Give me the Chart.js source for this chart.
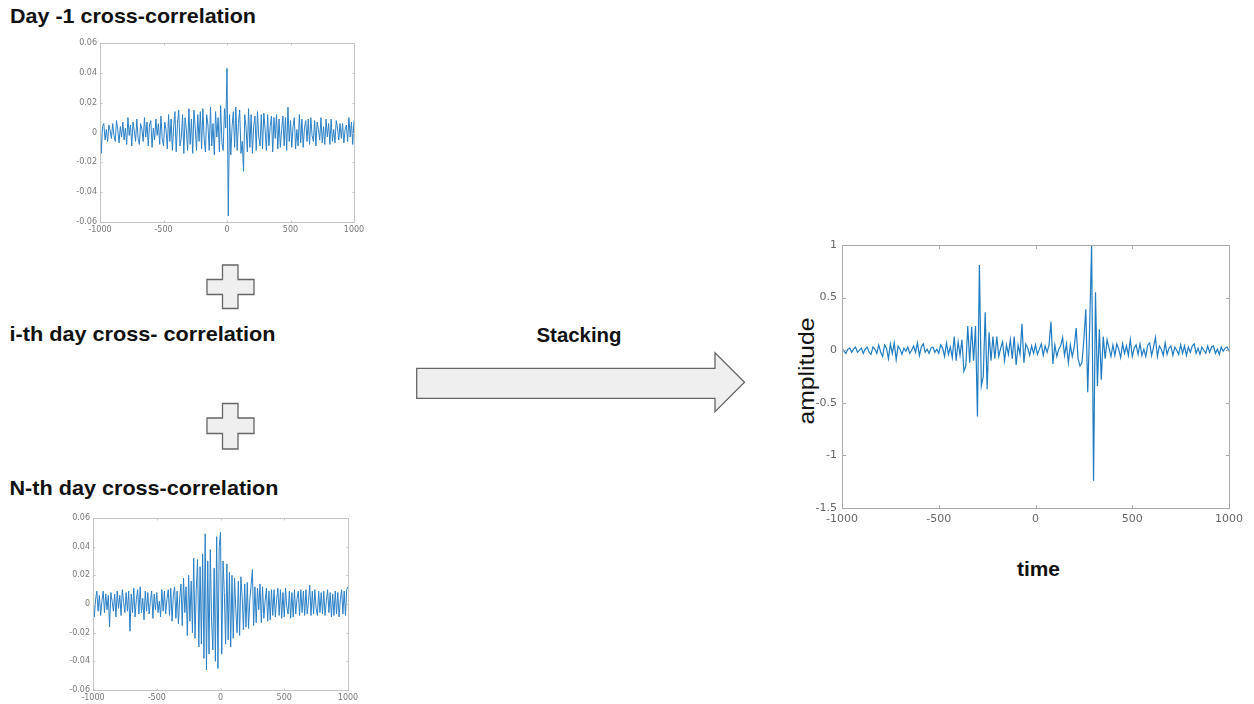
<!DOCTYPE html>
<html>
<head>
<meta charset="utf-8">
<script src="https://cdn.jsdelivr.net/npm/chart.js@4.4.1/dist/chart.umd.min.js"></script>
<style>
  html, body { margin: 0; padding: 0; background: #ffffff; }
  #page { position: relative; width: 1254px; height: 704px; overflow: hidden; background: #fff; }
  canvas { position: absolute; }
  svg { position: absolute; left: 0; top: 0; }
  .ttl { font-family: "Liberation Sans", Arial, sans-serif; font-weight: bold; font-size: 20.5px; fill: #111; }
</style>
</head>
<body>
<div id="page">
  <svg width="1254" height="704" viewBox="0 0 1254 704">
    <text class="ttl" x="10" y="23" textLength="246" lengthAdjust="spacingAndGlyphs">Day -1 cross-correlation</text>
    <text class="ttl" x="9.5" y="340.7" textLength="266" lengthAdjust="spacingAndGlyphs">i-th day cross- correlation</text>
    <text class="ttl" x="9.5" y="495" textLength="269" lengthAdjust="spacingAndGlyphs">N-th day cross-correlation</text>
    <text class="ttl" x="536.5" y="341.5" textLength="85" lengthAdjust="spacingAndGlyphs">Stacking</text>
    <text class="ttl" x="1017" y="576" textLength="43" lengthAdjust="spacingAndGlyphs">time</text>
    <text transform="translate(814,371) rotate(-90)" text-anchor="middle" textLength="107" lengthAdjust="spacingAndGlyphs"
          style="font-family:'Liberation Sans',Arial,sans-serif;font-size:22px;fill:#111;">amplitude</text>
    <path d="M222.5,265 H238 V279.5 H254 V294.5 H238 V308.5 H222.5 V294.5 H207 V279.5 H222.5 Z"
          fill="#efefef" stroke="#666" stroke-width="1.3"/>
    <path d="M222.5,403.5 H238 V418 H254 V433.5 H238 V449 H222.5 V433.5 H207 V418 H222.5 Z"
          fill="#efefef" stroke="#666" stroke-width="1.3"/>
    <path d="M416.7,368.3 H715 V352.7 L744.5,382.2 L715,411.7 V398.3 H416.7 Z"
          fill="#efefef" stroke="#666" stroke-width="1.3"/>
  </svg>
  <canvas id="c1" width="330" height="205" style="left:40px;top:33px;"></canvas>
  <canvas id="c3" width="330" height="196" style="left:35px;top:508px;"></canvas>
  <canvas id="cm" width="470" height="300" style="left:780px;top:232px;"></canvas>
</div>
<script>
// ---- shared time lags ----
const lags = [
 -1000,-990,-980,-970,-960,-950,-940,-930,-920,-910,
 -900,-890,-880,-870,-860,-850,-840,-830,-820,-810,
 -800,-790,-780,-770,-760,-750,-740,-730,-720,-710,
 -700,-690,-680,-670,-660,-650,-640,-630,-620,-610,
 -600,-590,-580,-570,-560,-550,-540,-530,-520,-510,
 -500,-490,-480,-470,-460,-450,-440,-430,-420,-410,
 -400,-390,-380,-370,-360,-350,-340,-330,-320,-310,
 -300,-290,-280,-270,-260,-250,-240,-230,-220,-210,
 -200,-190,-180,-170,-160,-150,-140,-130,-120,-110,
 -100,-90,-80,-70,-60,-50,-40,-30,-20,-10,
 0,10,20,30,40,50,60,70,80,90,
 100,110,120,130,140,150,160,170,180,190,
 200,210,220,230,240,250,260,270,280,290,
 300,310,320,330,340,350,360,370,380,390,
 400,410,420,430,440,450,460,470,480,490,
 500,510,520,530,540,550,560,570,580,590,
 600,610,620,630,640,650,660,670,680,690,
 700,710,720,730,740,750,760,770,780,790,
 800,810,820,830,840,850,860,870,880,890,
 900,910,920,930,940,950,960,970,980,990,
 1000
];

// ---- Day -1 cross-correlation ----
const day1Corr = [
 0.014,-0.014,0.004,0.006,-0.005,0.002,-0.006,0.005,0.001,-0.004,
 0.006,-0.002,-0.006,0.008,0.002,-0.007,0.004,-0.003,0.007,-0.005,
 0.003,-0.008,0.01,-0.002,0.005,-0.009,0.007,0.001,-0.006,0.009,
 -0.004,-0.008,0.006,0.002,-0.006,0.01,-0.003,0.007,-0.009,0.005,
 0.008,-0.01,0.003,-0.005,0.009,-0.002,0.006,-0.008,0.011,-0.004,
 -0.009,0.007,0.002,-0.011,0.012,-0.006,0.009,-0.012,0.004,0.014,
 -0.013,0.006,0.015,-0.009,-0.004,0.012,-0.014,0.01,0.002,-0.012,
 0.016,-0.008,0.009,-0.014,0.015,0.003,-0.012,0.012,-0.006,0.014,
 -0.011,0.016,-0.004,-0.013,0.012,0.005,-0.012,0.017,-0.009,0.006,
 -0.015,0.014,-0.003,0.01,-0.013,0.018,-0.007,-0.012,0.016,0.003,
 0.043,-0.056,0.012,-0.015,0.004,0.014,-0.01,0.017,-0.012,0.006,
 0.015,-0.014,-0.006,-0.026,0.012,0.003,-0.013,0.016,-0.01,0.012,
 -0.014,0.004,0.011,-0.012,0.014,-0.003,-0.009,0.012,-0.011,0.013,
 0.002,-0.012,0.012,-0.009,0.004,0.011,-0.013,0.01,-0.004,0.012,
 -0.011,0.009,-0.01,0.002,0.011,-0.009,0.01,-0.012,0.017,-0.006,
 0.008,-0.01,0.004,0.01,-0.011,0.002,-0.009,0.012,-0.007,0.009,
 -0.01,0.003,0.008,-0.006,0.009,-0.008,0.01,-0.002,-0.006,0.008,
 -0.009,0.007,0.002,-0.005,0.01,-0.007,0.004,-0.008,0.009,-0.003,
 0.006,-0.008,0.009,-0.006,0.002,-0.007,0.008,0.003,-0.005,0.006,
 -0.004,0.006,-0.007,0.002,0.005,-0.006,0.01,-0.003,0.007,-0.008,
 0.008
];

// ---- N-th day cross-correlation ----
const dayNCorr = [
 0.008,-0.009,0.003,0.009,-0.005,0.006,-0.008,0.002,0.009,-0.006,
 0.007,-0.004,0.006,-0.016,0.008,0.002,-0.005,0.007,-0.009,0.009,
 -0.003,0.006,-0.008,0.01,0.001,-0.006,0.008,-0.005,0.009,-0.019,
 0.007,-0.006,0.011,-0.009,0.003,0.01,-0.007,0.012,-0.006,0.004,
 -0.011,0.009,-0.005,0.008,-0.007,0.002,0.009,-0.01,0.007,-0.004,
 0.008,-0.006,0.002,-0.009,0.01,-0.005,0.009,-0.007,0.003,0.01,
 -0.008,0.011,-0.012,0.006,0.012,-0.01,0.009,-0.014,0.004,0.014,
 -0.015,0.018,-0.006,0.012,-0.022,0.02,-0.012,0.016,-0.02,0.032,
 -0.024,0.01,0.031,-0.03,0.026,-0.028,0.035,-0.038,0.049,-0.046,
 0.03,-0.035,0.038,-0.012,-0.032,0.025,-0.04,0.047,-0.045,0.04,
 0.05,-0.035,0.03,0.008,-0.028,0.028,-0.025,0.022,-0.03,0.02,
 -0.024,0.018,-0.004,-0.02,0.016,-0.022,0.019,0.005,-0.018,0.014,
 -0.016,0.015,-0.017,0.003,0.013,0.024,-0.015,0.012,-0.013,0.011,
 -0.004,0.014,-0.013,0.012,-0.01,0.002,0.011,-0.012,0.009,-0.011,
 0.01,-0.008,0.01,-0.009,0.003,0.011,-0.008,0.01,-0.01,0.008,
 -0.009,0.011,-0.002,-0.007,0.009,-0.01,0.008,-0.009,0.01,-0.007,
 0.004,0.009,-0.008,0.01,-0.006,0.009,-0.008,0.01,-0.007,0.002,
 0.013,-0.008,0.009,-0.007,0.01,-0.003,-0.008,0.009,-0.006,0.008,
 -0.007,0.009,-0.008,0.002,0.01,-0.006,0.008,-0.009,0.007,-0.008,
 0.009,-0.007,0.008,-0.009,0.003,0.01,-0.007,0.009,-0.008,0.01,
 0.012
];

// ---- Stacked amplitude ----
const stackedAmp = [
 0.02,-0.01,-0.03,0.01,0.02,-0.02,0.01,0.03,-0.02,0.0,
 0.02,-0.03,0.01,0.03,-0.02,-0.04,0.03,0.01,-0.03,0.05,
 -0.02,-0.06,0.05,0.02,-0.08,0.06,-0.03,0.07,-0.09,0.04,
 0.01,-0.04,0.02,-0.01,0.03,-0.03,0.0,0.04,-0.02,0.07,
 -0.05,0.03,0.06,-0.02,0.01,-0.03,0.02,0.03,-0.02,0.01,
 -0.03,0.05,0.02,-0.06,0.07,-0.04,0.03,-0.07,0.13,-0.1,
 0.08,-0.05,0.1,-0.2,-0.15,0.23,-0.12,0.22,-0.1,0.23,
 -0.63,0.81,-0.34,-0.25,0.36,-0.37,0.17,-0.1,0.13,-0.08,
 0.13,-0.06,0.02,0.08,-0.1,0.05,-0.04,0.1,-0.08,0.13,
 -0.14,0.05,-0.04,0.25,-0.12,0.06,0.02,-0.05,0.04,-0.03,
 0.05,-0.04,0.01,0.06,-0.05,0.04,-0.02,0.05,0.27,-0.13,
 0.05,-0.06,0.01,0.04,0.12,-0.05,0.06,-0.12,0.05,-0.06,
 0.03,0.21,-0.08,-0.15,-0.12,0.1,0.39,-0.4,0.23,1.0,
 -1.24,0.55,-0.34,0.2,-0.28,0.13,-0.08,0.1,0.02,-0.06,
 0.05,-0.05,0.06,0.01,-0.07,0.06,-0.03,0.04,-0.05,0.1,
 -0.06,0.02,0.05,-0.04,0.06,-0.05,0.01,-0.06,0.05,0.07,
 -0.05,0.03,0.12,-0.06,0.04,0.01,-0.05,0.07,-0.04,0.02,
 0.04,-0.05,0.03,0.0,-0.04,0.05,-0.03,0.04,-0.05,0.03,
 -0.02,0.04,0.06,-0.03,0.02,-0.04,0.03,0.0,-0.03,0.04,
 -0.02,0.03,0.04,-0.03,0.01,-0.04,0.03,-0.01,0.02,0.03,
 -0.01
];

// ---- tick values / labels ----
const xTicks = [-1000, -500, 0, 500, 1000];
const xTickLabels = ['-1000', '-500', '0', '500', '1000'];
const yTicksSmall = [-0.06, -0.04, -0.02, 0, 0.02, 0.04, 0.06];
const yTickLabelsSmall = ['-0.06', '-0.04', '-0.02', '0', '0.02', '0.04', '0.06'];
const yTicksMain = [-1.5, -1, -0.5, 0, 0.5, 1];
const yTickLabelsMain = ['-1.5', '-1', '-0.5', '0', '0.5', '1'];

// box + inner tick marks (matlab style), positioned from the chart's own scales
const boxPlugin = {
  id: 'box',
  afterDatasetsDraw(chart, args, o) {
    const { ctx, chartArea: a } = chart;
    const xs = chart.scales.x, ys = chart.scales.y;
    const L = Math.round(a.left) + 0.5, R = Math.round(a.right) + 0.5;
    const T = Math.round(a.top) + 0.5, B = Math.round(a.bottom) + 0.5;
    ctx.save();
    ctx.strokeStyle = o.color;
    ctx.lineWidth = 1;
    ctx.strokeRect(L, T, R - L, B - T);
    ctx.beginPath();
    xs.ticks.forEach(t => {
      const p = Math.round(xs.getPixelForValue(t.value)) + 0.5;
      ctx.moveTo(p, B); ctx.lineTo(p, B - o.len);
      ctx.moveTo(p, T); ctx.lineTo(p, T + o.len);
    });
    ys.ticks.forEach(t => {
      const p = Math.round(ys.getPixelForValue(t.value)) + 0.5;
      ctx.moveTo(L, p); ctx.lineTo(L + o.len, p);
      ctx.moveTo(R, p); ctx.lineTo(R - o.len, p);
    });
    ctx.stroke();
    ctx.restore();
  }
};

function makeChart(id, values, cfg) {
  return new Chart(document.getElementById(id), {
    type: 'line',
    data: {
      datasets: [{
        data: lags.map((x, i) => ({ x: x, y: values[i] })),
        borderColor: cfg.color,
        borderWidth: cfg.lw,
        pointRadius: 0,
        tension: 0,
        fill: false
      }]
    },
    options: {
      responsive: false,
      maintainAspectRatio: false,
      animation: false,
      events: [],
      layout: { autoPadding: false, padding: cfg.pad },
      plugins: {
        legend: { display: false },
        tooltip: { enabled: false },
        box: { color: cfg.boxColor, len: cfg.tickLen }
      },
      scales: {
        x: {
          type: 'linear', min: -1000, max: 1000,
          afterBuildTicks: s => { s.ticks = xTicks.map(v => ({ value: v })); },
          afterFit: s => { s.height = cfg.xh; },
          grid: { display: false, drawTicks: false },
          border: { display: false },
          ticks: {
            autoSkip: false, maxRotation: 0, padding: cfg.xpad,
            color: cfg.tc, font: { family: 'DejaVu Sans', size: cfg.fs },
            callback: (v, i) => xTickLabels[i]
          }
        },
        y: {
          type: 'linear', min: cfg.ymin, max: cfg.ymax,
          afterBuildTicks: s => { s.ticks = cfg.yTicks.map(v => ({ value: v })); },
          afterFit: s => { s.width = cfg.yw; },
          grid: { display: false, drawTicks: false },
          border: { display: false },
          ticks: {
            autoSkip: false, padding: cfg.ypad,
            color: cfg.tc, font: { family: 'DejaVu Sans', size: cfg.fs },
            callback: (v, i) => cfg.yLabels[i]
          }
        }
      }
    },
    plugins: [boxPlugin]
  });
}

makeChart('c1', day1Corr, {
  color: '#2a80c6', lw: 1, pad: { left: 0, top: 10, right: 16, bottom: 0 },
  xh: 16, yw: 60, xpad: 3, ypad: 3, fs: 8, tc: '#777',
  ymin: -0.06, ymax: 0.06, yTicks: yTicksSmall, yLabels: yTickLabelsSmall,
  boxColor: '#c4c4c4', tickLen: 2
});
makeChart('c3', dayNCorr, {
  color: '#2a80c6', lw: 1, pad: { left: 0, top: 10, right: 17, bottom: 0 },
  xh: 14, yw: 58, xpad: 3, ypad: 3, fs: 8, tc: '#777',
  ymin: -0.06, ymax: 0.06, yTicks: yTicksSmall, yLabels: yTickLabelsSmall,
  boxColor: '#c4c4c4', tickLen: 2
});
makeChart('cm', stackedAmp, {
  color: '#1f7cc2', lw: 1.2, pad: { left: 0, top: 13, right: 21, bottom: 0 },
  xh: 24, yw: 62, xpad: 5, ypad: 5, fs: 11, tc: '#666',
  ymin: -1.5, ymax: 1, yTicks: yTicksMain, yLabels: yTickLabelsMain,
  boxColor: '#a8a8a8', tickLen: 3.5
});
</script>
</body>
</html>
